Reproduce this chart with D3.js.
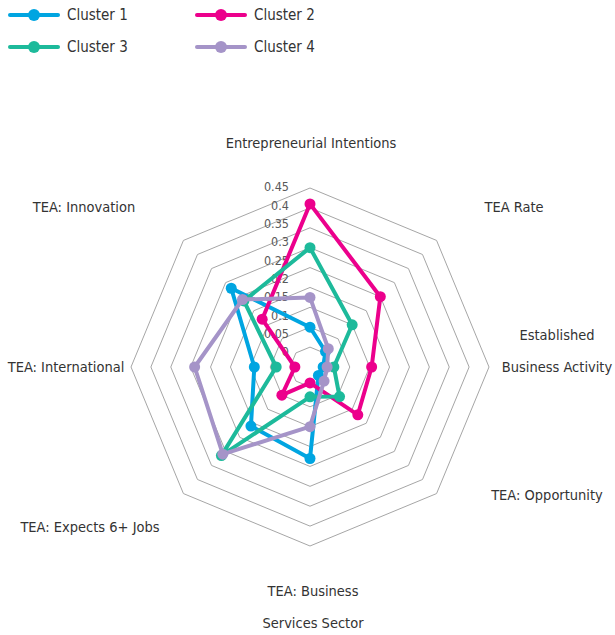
<!DOCTYPE html>
<html>
<head>
<meta charset="utf-8">
<script src="https://cdn.jsdelivr.net/npm/d3@7"></script>
<style>
  body { margin: 0; background: #fff; }
  svg text { font-family: "Liberation Sans Narrow", "DejaVu Sans Condensed", "Roboto", sans-serif; }
</style>
</head>
<body>
<div class="chart"></div>
<script>
// data
var categories = [
    ["Entrepreneurial Intentions"],
    ["TEA Rate"],
    ["Established", "Business Activity"],
    ["TEA: Opportunity"],
    ["TEA: Business", "Services Sector"],
    ["TEA:  Expects 6+ Jobs"],
    ["TEA: International"],
    ["TEA: Innovation"]
]
var seriesNames = ["Cluster 1", "Cluster 2", "Cluster 3", "Cluster 4"]
var cluster1 = [0.10, 0.055, 0.033, 0.03, 0.23, 0.21, 0.14, 0.28]
var cluster2 = [0.41, 0.25, 0.155, 0.17, 0.04, 0.10, 0.038, 0.17]
var cluster3 = [0.30, 0.15, 0.06, 0.105, 0.075, 0.315, 0.085, 0.235]
var cluster4 = [0.175, 0.065, 0.043, 0.05, 0.15, 0.31, 0.29, 0.24]
var tickValues = [0, 0.05, 0.1, 0.15, 0.2, 0.25, 0.3, 0.35, 0.4, 0.45]
var tickLabels = ["0", "0.05", "0.1", "0.15", "0.2", "0.25", "0.3", "0.35", "0.4", "0.45"]

var colors = ["#00A5E1", "#EC008C", "#1DBA9B", "#A594C8"]
var allSeries = [cluster1, cluster2, cluster3, cluster4]

var width = 615, height = 635
var cx = 310, cy = 367, radius = 179

var svg = d3.select(".chart").append("svg")
    .attr("width", width)
    .attr("height", height)

var rScale = d3.scaleLinear().domain([0, 0.45]).range([0, radius])
var angle = d3.scaleLinear().domain([0, categories.length]).range([0, 2 * Math.PI])

function point(i, v) {
    var a = angle(i)
    return [cx + rScale(v) * Math.sin(a), cy - rScale(v) * Math.cos(a)]
}

// grid rings
var g = svg.append("g")
tickValues.slice(1).forEach(function(t) {
    var pts = categories.map(function(_, i) { return point(i, t) })
    g.append("polygon")
        .attr("points", pts.map(function(p) { return p.join(",") }).join(" "))
        .attr("fill", "none")
        .attr("stroke", "#A6A6A6")
        .attr("stroke-width", 1)
})

// tick labels (Excel draws them a bit compressed above the axis)
var labelScale = d3.scaleLinear().domain([0, 0.45]).range([cy - 15, 187])
g.selectAll("text.tick")
    .data(tickValues)
    .enter()
    .append("text")
    .attr("class", "tick")
    .attr("x", 289)
    .attr("y", function(d) { return labelScale(d) })
    .attr("dy", "0.35em")
    .attr("text-anchor", "end")
    .style("font-size", "12.5px")
    .style("fill", "#595959")
    .text(function(d, i) { return tickLabels[i] })

// category labels
var labelPos = [
    [311, 143],
    [514, 207],
    [557, 335],
    [547, 495],
    [313, 591],
    [90, 527],
    [66, 367],
    [84, 207]
]
categories.forEach(function(lines, i) {
    var t = svg.append("text")
        .attr("x", labelPos[i][0])
        .attr("y", labelPos[i][1])
        .attr("text-anchor", "middle")
        .style("font-size", "14.5px")
        .style("fill", "#333")
    lines.forEach(function(l, j) {
        t.append("tspan")
            .attr("x", labelPos[i][0])
            .attr("dy", j === 0 ? "0.35em" : "32px")
            .text(l)
    })
})

// series
var line = d3.line().curve(d3.curveLinearClosed)
allSeries.forEach(function(s, k) {
    var pts = s.map(function(v, i) { return point(i, v) })
    var sg = svg.append("g")
    sg.append("path")
        .attr("d", line(pts))
        .attr("fill", "none")
        .attr("stroke", colors[k])
        .attr("stroke-width", 4)
        .attr("stroke-linejoin", "round")
    sg.selectAll("circle")
        .data(pts)
        .enter()
        .append("circle")
        .attr("cx", function(d) { return d[0] })
        .attr("cy", function(d) { return d[1] })
        .attr("r", 5.5)
        .style("fill", colors[k])
})

// legend
var legend = svg.append("g")
seriesNames.forEach(function(name, k) {
    var lx = (k % 2) * 187 + 10
    var ly = Math.floor(k / 2) * 32 + 15
    var lg = legend.append("g").attr("transform", "translate(" + lx + "," + ly + ")")
    lg.append("line")
        .attr("x1", 0).attr("x2", 48)
        .attr("stroke", colors[k])
        .attr("stroke-width", 4)
        .attr("stroke-linecap", "round")
    lg.append("circle")
        .attr("cx", 24).attr("r", 6)
        .style("fill", colors[k])
    lg.append("text")
        .attr("x", 57)
        .attr("dy", "0.35em")
        .style("font-size", "15px")
        .style("fill", "#333")
        .text(name)
})
</script>
</body>
</html>
